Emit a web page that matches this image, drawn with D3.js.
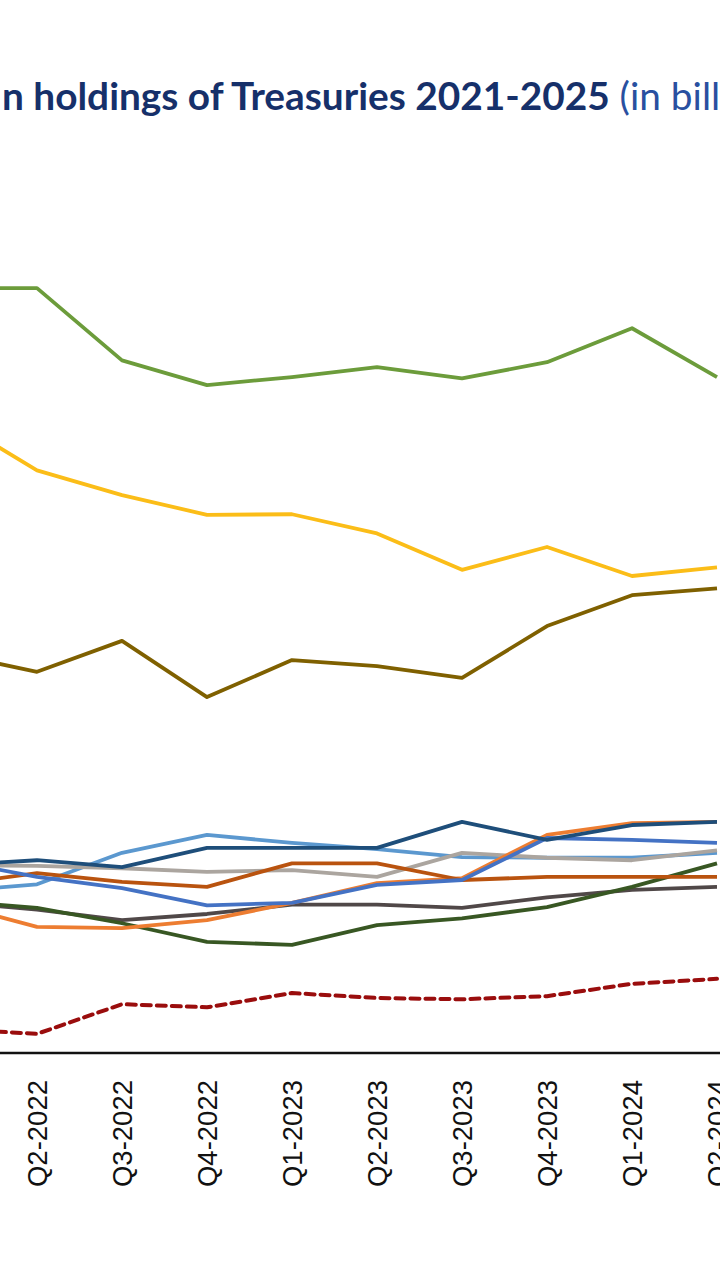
<!DOCTYPE html>
<html>
<head>
<meta charset="utf-8">
<script src="https://cdn.jsdelivr.net/npm/d3@7"></script>
<style>
  html, body { margin: 0; padding: 0; background: #ffffff; overflow: hidden; }
  svg { display: block; }
</style>
</head>
<body>
<svg id="chart" width="720" height="1280"></svg>
<script>
// ---- data (billions of USD) ----
const quarters = ["Q1-2022","Q2-2022","Q3-2022","Q4-2022","Q1-2023","Q2-2023","Q3-2023","Q4-2023","Q1-2024","Q2-2024"];
const tickLabels = ["Q2-2022","Q3-2022","Q4-2022","Q1-2023","Q2-2023","Q3-2023","Q4-2023","Q1-2024","Q2-2024"];

const japan     = [1238,1238,1121,1081,1094,1110,1092,1118,1173,1094];
const china     = [1026, 943, 903, 871, 872, 841, 782, 819, 772, 786];
const uk        = [ 646, 617, 667, 576, 636, 626, 607, 691, 741, 752];
const seriesLightBlue = [262, 273, 324, 353, 340, 330, 317, 316, 316, 324];
const seriesGray      = [304, 303, 299, 293, 296, 285, 324, 316, 312, 328];
const seriesDarkGray  = [244, 232, 215, 225, 240, 240, 235, 252, 264, 269];
const seriesDarkGreen = [246, 235, 210, 180, 175, 207, 218, 236, 269, 307];
const seriesOrange    = [241, 204, 202, 215, 243, 275, 283, 353, 372, 374];
const seriesRust      = [273, 291, 277, 269, 307, 307, 280, 285, 285, 285];
const seriesBlue      = [311, 285, 267, 239, 243, 272, 280, 348, 345, 340];
const seriesNavy      = [304, 312, 301, 332, 332, 332, 374, 345, 369, 374];
const seriesDashed    = [ 39,  31,  79,  74,  97,  89,  87,  92, 112, 120];

const titleHidden = "Foreig";
const titleBold = "n holdings of Treasuries 2021-2025";
const titleRest = " (in billions of USD)";

// ---- styling (kept separate from data) ----
const series = [
  {values: seriesDashed,    color: "#9a0d0d", dash: "9,6"},
  {values: seriesLightBlue, color: "#5b98cf"},
  {values: seriesGray,      color: "#aba59f"},
  {values: seriesDarkGray,  color: "#504848"},
  {values: seriesDarkGreen, color: "#385723"},
  {values: seriesOrange,    color: "#ed7d31"},
  {values: seriesRust,      color: "#b9530f"},
  {values: seriesBlue,      color: "#4472c4"},
  {values: seriesNavy,      color: "#1e4e7a"},
  {values: uk,              color: "#7f6000"},
  {values: china,           color: "#fbbd18"},
  {values: japan,           color: "#6c9c3b"}
];

const svg = d3.select("#chart");

const x = d3.scalePoint().domain(quarters).range([-48, 717]);
const y = d3.scaleLinear().domain([0, 1400]).range([1053, 188]);

// lines
const line = d3.line()
  .x((d, i) => x(quarters[i]))
  .y(d => y(d));

svg.append("g").selectAll("path")
  .data(series)
  .join("path")
  .attr("d", s => line(s.values))
  .attr("fill", "none")
  .attr("stroke", s => s.color)
  .attr("stroke-width", s => s.dash ? 4 : 3.8)
  .attr("stroke-linejoin", "round")
  .attr("stroke-linecap", s => s.dash ? "round" : "butt")
  .attr("stroke-dasharray", s => s.dash || null);

// x axis
const xAxis = d3.axisBottom(x).tickValues(tickLabels).tickSize(0).tickPadding(0);
const gx = svg.append("g").attr("transform", `translate(0,${y(0)})`).call(xAxis);
gx.select(".domain").attr("d", "M-10,0H730").attr("stroke", "#111").attr("stroke-width", 2.4);
gx.selectAll(".tick text")
  .attr("transform", "rotate(-90)")
  .attr("x", -27)
  .attr("y", 0)
  .attr("dy", "0.36em")
  .attr("text-anchor", "end")
  .attr("font-family", "'Liberation Sans', Arial, sans-serif")
  .attr("font-size", 27.5)
  .attr("fill", "#111");

// title (its beginning lies outside the visible crop, as in the picture)
const title = svg.append("text")
  .attr("y", 110)
  .attr("font-family", "Lato, 'Open Sans', sans-serif")
  .attr("font-size", 31)
  .attr("font-weight", "bold")
  .attr("fill", "#16306a");
const th = title.append("tspan").text(titleHidden);
const tb = title.append("tspan").attr("x", 2).text(titleBold);
title.append("tspan").attr("font-weight", "normal").attr("fill", "#2950a0").text(titleRest);
const fs = 31 * 608 / tb.node().getComputedTextLength();
title.attr("font-size", fs);
th.attr("x", -th.node().getComputedTextLength() - 4);
</script>
</body>
</html>
